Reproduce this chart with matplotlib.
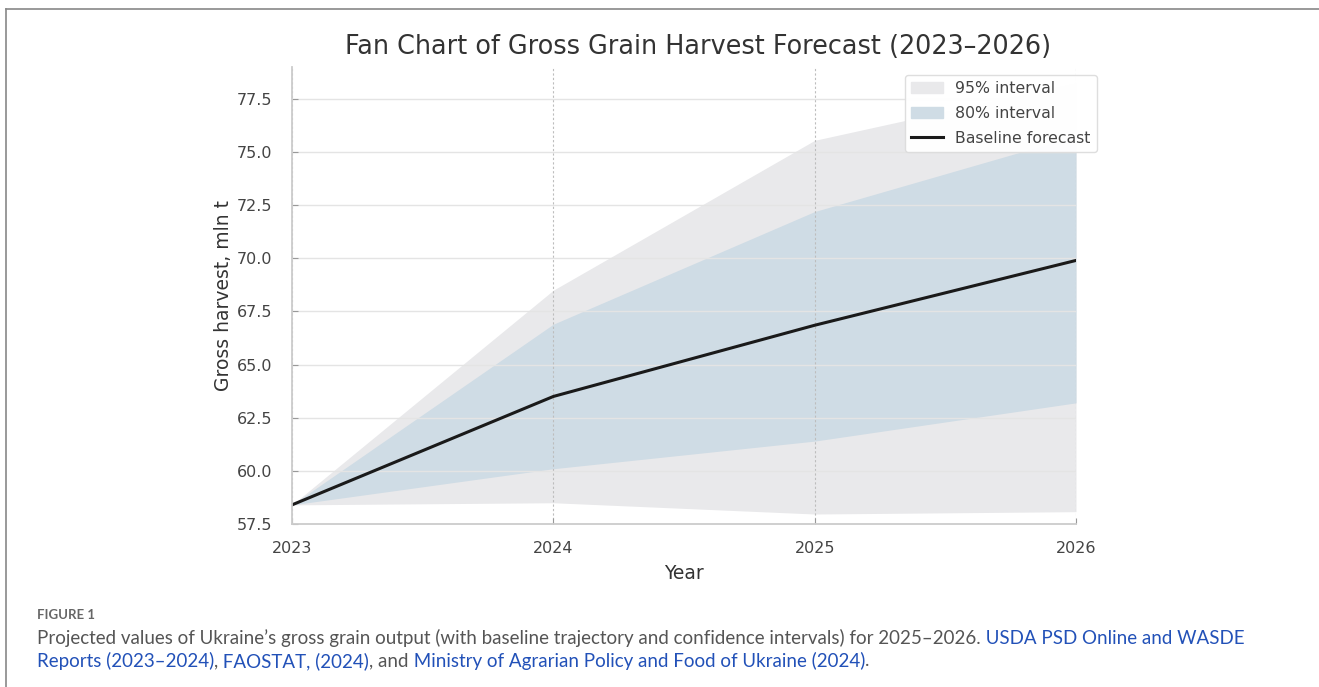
import numpy as np
import matplotlib.pyplot as plt
from matplotlib.patches import Patch
from matplotlib.lines import Line2D
from matplotlib.font_manager import FontProperties

# données
years = [2023, 2024, 2025, 2026]
baseline = [58.4, 63.5, 66.85, 69.9]
lo80 = [58.4, 60.1, 61.4, 63.2]
hi80 = [58.4, 66.9, 72.2, 75.75]
lo95 = [58.4, 58.5, 57.97, 58.08]
hi95 = [58.4, 68.5, 75.55, 78.25]
yticks = [57.5, 60.0, 62.5, 65.0, 67.5, 70.0, 72.5, 75.0, 77.5]

W, H = 1319, 687
fig = plt.figure(figsize=(W / 100, H / 100), dpi=100)
ax = fig.add_axes([292 / W, 1 - 524 / H, (1076 - 292) / W, (524 - 67) / H])

ax.fill_between(years, lo95, hi95, color="#e9e9eb", lw=0, label="95% interval")
ax.fill_between(years, lo80, hi80, color="#cfdce5", lw=0, label="80% interval")
ax.plot(years, baseline, color="#1a1a1a", lw=2.2, label="Baseline forecast")

ax.set_xlim(2023, 2026)
ax.set_ylim(57.5, 79.0)
ax.set_xticks(years)
ax.set_yticks(yticks)
ax.set_yticklabels([f"{v:.1f}" for v in yticks])

ax.grid(axis="y", color="#e4e4e4", lw=1.0)
ax.grid(axis="x", color="#bdbdbd", lw=0.8, ls=(0, (2, 2)))
for s in ["top", "right"]:
    ax.spines[s].set_visible(False)
for s in ["left", "bottom"]:
    ax.spines[s].set_color("#cccccc")
    ax.spines[s].set_linewidth(1.3)
ax.tick_params(axis="both", direction="in", length=4, color="#999999",
               labelcolor="#444444", labelsize=11.5)
ax.tick_params(axis="y", pad=14)
ax.tick_params(axis="x", pad=12)

ax.set_title("Fan Chart of Gross Grain Harvest Forecast (2023–2026)",
             fontsize=18.4, color="#333333", pad=9, x=0.5185)
ax.set_xlabel("Year", fontsize=13.5, color="#333333", labelpad=6)
ax.set_ylabel("Gross harvest, mln t", fontsize=13.5, color="#333333", labelpad=3)

handles = [Patch(color="#e9e9eb"), Patch(color="#cfdce5"),
           Line2D([], [], color="#1a1a1a", lw=2.2)]
leg = ax.legend(handles, ["95% interval", "80% interval", "Baseline forecast"],
                loc="upper right", bbox_to_anchor=(1097 / W, 1 - 75 / H),
                bbox_transform=fig.transFigure, borderaxespad=0,
                fontsize=11.3, labelspacing=0.62, frameon=True, fancybox=True,
                framealpha=0.97, labelcolor="#444444")
leg.get_frame().set_edgecolor("#dddddd")

# cadre de la page
fig.add_artist(Line2D([6 / W, 6 / W], [0, 1 - 9 / H], color="#888888", lw=1.2))
fig.add_artist(Line2D([6 / W, 1], [1 - 9 / H, 1 - 9 / H], color="#888888", lw=1.2))

# légende de la figure
grey = "#555555"
blue = "#2251b8"
fig.text(37 / W, 1 - 615 / H, "FIGURE 1", fontsize=9.5, color="#666666",
         family="Lato", weight="bold", va="center")

line1 = [("Projected values of Ukraine’s gross grain output (with baseline trajectory "
          "and confidence intervals) for 2025–2026.", grey),
         (" USDA PSD Online and WASDE", blue)]
line2 = [("Reports (2023–2024)", blue), (",", grey), (" FAOSTAT, (2024)", blue),
         (", and", grey), (" Ministry of Agrarian Policy and Food of Ukraine (2024)", blue),
         (".", grey)]

renderer = fig.canvas.get_renderer()
cap_font = FontProperties(family="Lato", size=13.5)


def width_px(s):
    w, h, d = renderer.get_text_width_height_descent(s, cap_font, ismath=False)
    return w


def caption_line(parts, y):
    x0 = 37
    done = ""
    for s, c in parts:
        x = x0 + (width_px(done + s) - width_px(s) if done else 0)
        fig.text(x / W, 1 - y / H, s, color=c, fontproperties=cap_font, va="center")
        done += s


caption_line(line1, 638)
caption_line(line2, 661)

fig.savefig("out.png", dpi=100)
